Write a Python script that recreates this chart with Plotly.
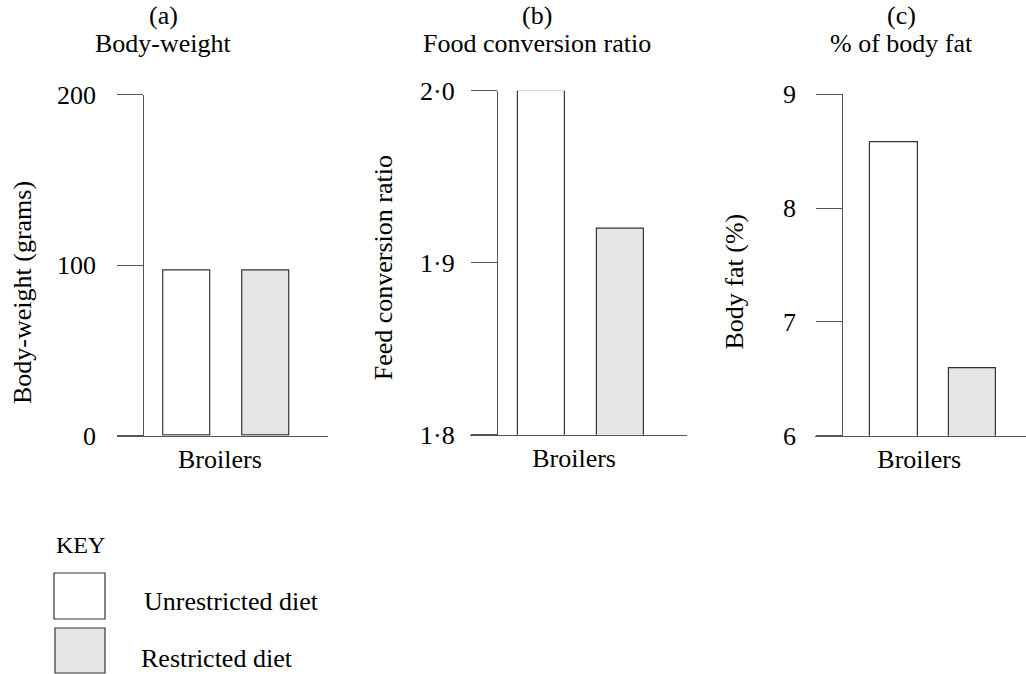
import plotly.graph_objects as go

# ---------------- data ----------------
category = ["Broilers"]
diets = ["Unrestricted diet", "Restricted diet"]
body_weight = [97, 97]            # grams
feed_conversion = [2.00, 1.92]    # ratio
body_fat = [8.58, 6.59]           # %

bw_ticks = [0, 100, 200]
bw_labels = ["0", "100", "200"]
fc_ticks = [1.8, 1.9, 2.0]
fc_labels = ["1·8", "1·9", "2·0"]
bf_ticks = [6, 7, 8, 9]
bf_labels = ["6", "7", "8", "9"]

panel_letters = ["(a)", "(b)", "(c)"]
panel_titles = ["Body-weight", "Food conversion ratio", "% of body fat"]
y_titles = ["Body-weight (grams)", "Feed conversion ratio", "Body fat (%)"]

# ---------------- style ----------------
W, H = 1026, 674
FONT = '"Liberation Serif", "Times New Roman", Times, "DejaVu Serif", serif'
FS = 26
AXC = "#555555"
BAR_LINE = "#333333"
fills = ["#ffffff", "#e5e5e5"]


def px(x):
    return x / W


def py(y):
    return 1 - y / H


fig = go.Figure()

panels = [
    dict(vals=body_weight, ticks=bw_ticks, labels=bw_labels, rng=[0, 200],
         xdom=(117.3, 327.7), ydom=(94.5, 435.7), axis_x=143.3,
         xr=(-0.883, 1.790), cat_x=0.42, standoff=16,
         title_x=163, ytitle=(22.5, 292.5)),
    dict(vals=feed_conversion, ticks=fc_ticks, labels=fc_labels, rng=[1.8, 2.0],
         xdom=(470.0, 686.7), ydom=(90.7, 434.7), axis_x=497.0,
         xr=(-0.912, 1.841), cat_x=0.41, standoff=11,
         title_x=536.7, ytitle=(383.3, 268)),
    dict(vals=body_fat, ticks=bf_ticks, labels=bf_labels, rng=[6, 9],
         xdom=(815.0, 1026.0), ydom=(94.3, 435.7), axis_x=842.3,
         xr=(-1.004, 1.677), cat_x=0.32, standoff=15,
         title_x=901.5, ytitle=(734, 281.5)),
]

for k, p in enumerate(panels):
    xa = "x" if k == 0 else f"x{k+1}"
    ya = "y" if k == 0 else f"y{k+1}"
    for i, d in enumerate(diets):
        fig.add_trace(go.Bar(
            x=[i], y=[p["vals"][i]],
            width=0.6, name=d, showlegend=False,
            marker=dict(color=fills[i], line=dict(color=BAR_LINE, width=1.2)),
            xaxis=xa, yaxis=ya, hoverinfo="skip",
        ))
    xkey = "xaxis" if k == 0 else f"xaxis{k+1}"
    ykey = "yaxis" if k == 0 else f"yaxis{k+1}"
    fig.layout[xkey] = dict(
        domain=[px(p["xdom"][0]), px(p["xdom"][1])],
        range=list(p["xr"]), anchor=ya, automargin=False,
        showline=True, linecolor=AXC, linewidth=1.3,
        showgrid=False, zeroline=False, ticks="",
        tickvals=[p["cat_x"]], ticktext=category,
        tickfont=dict(family=FONT, size=FS, color="black"),
        fixedrange=True,
    )
    fig.layout[ykey] = dict(
        domain=[py(p["ydom"][1]), py(p["ydom"][0])],
        range=p["rng"], anchor="free", position=px(p["axis_x"]), automargin=False,
        showline=True, linecolor=AXC, linewidth=1.3,
        showgrid=False, zeroline=False,
        ticks="outside", ticklen=26, tickcolor=AXC, tickwidth=1.3,
        tickvals=p["ticks"], ticktext=p["labels"],
        ticklabelstandoff=p["standoff"],
        tickfont=dict(family=FONT, size=FS, color="black"),
        fixedrange=True,
    )
    # panel headings
    fig.add_annotation(x=px(p["title_x"]), y=py(15.7), xref="paper", yref="paper",
                       text=panel_letters[k], showarrow=False,
                       xanchor="center", yanchor="middle",
                       font=dict(family=FONT, size=FS, color="black"))
    fig.add_annotation(x=px(p["title_x"]), y=py(43), xref="paper", yref="paper",
                       text=panel_titles[k], showarrow=False,
                       xanchor="center", yanchor="middle",
                       font=dict(family=FONT, size=FS, color="black"))
    fig.add_annotation(x=px(p["ytitle"][0]), y=py(p["ytitle"][1]), xref="paper", yref="paper",
                       text=y_titles[k], showarrow=False, textangle=-90,
                       xanchor="center", yanchor="middle",
                       font=dict(family=FONT, size=FS, color="black"))

# ---------------- key ----------------
fig.add_annotation(x=px(54), y=py(545), xref="paper", yref="paper", text="KEY",
                   showarrow=False, xanchor="left", yanchor="middle",
                   font=dict(family=FONT, size=24, color="black"))
key_boxes = [(54, 573, 105, 619), (55, 628, 105, 673)]
key_text = [(142, 601), (139, 658)]
for i, d in enumerate(diets):
    x0, y0, x1, y1 = key_boxes[i]
    fig.add_shape(type="rect", xref="paper", yref="paper",
                  x0=px(x0), x1=px(x1), y0=py(y1), y1=py(y0),
                  fillcolor=fills[i], line=dict(color=BAR_LINE, width=1.2))
    fig.add_annotation(x=px(key_text[i][0]), y=py(key_text[i][1]), xref="paper", yref="paper",
                       text=d, showarrow=False, xanchor="left", yanchor="middle",
                       font=dict(family=FONT, size=FS, color="black"))

fig.update_layout(
    template="none",
    width=W, height=H,
    margin=dict(l=0, r=0, t=0, b=0, autoexpand=False),
    paper_bgcolor="white", plot_bgcolor="white",
    bargap=0, showlegend=False,
    font=dict(family=FONT, size=FS, color="black"),
)

fig.write_html(
    "out.html",
    config={"displayModeBar": False, "staticPlot": False},
    post_script="document.body.style.margin='0';document.body.style.overflow='hidden';",
)
